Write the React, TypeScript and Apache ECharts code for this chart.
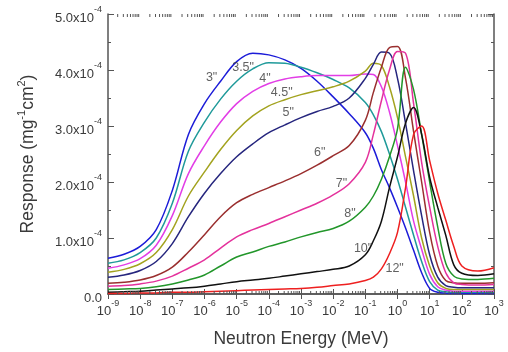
import React, { useEffect, useRef } from "react";
import * as echarts from "echarts";

// log10 of neutron energy (MeV) at which responses are read
const logE = [-9, -8.5, -8, -7.5, -7, -6.5, -6, -5.5, -5, -4.5, -4, -3.5, -3, -2.5, -2, -1.5, -1, -0.75, -0.5, -0.25, 0, 0.25, 0.5, 0.75, 1, 1.25, 1.5, 1.75, 2, 2.5, 3];

// responses in units of 1e-4 mg^-1 cm^2
const r3 = [0.64, 0.71, 0.85, 1.15, 1.85, 2.85, 3.4, 3.8, 4.15, 4.3, 4.27, 4.18, 4.03, 3.8, 3.52, 3.22, 2.88, 2.6, 2.22, 1.9, 1.55, 1.18, 0.78, 0.38, 0.1, 0.03, 0.015, 0.01, 0.01, 0.01, 0.01];
const r35 = [0.55, 0.61, 0.74, 1.0, 1.62, 2.55, 3.07, 3.48, 3.8, 4.02, 4.13, 4.12, 4.05, 3.95, 3.83, 3.68, 3.42, 3.2, 2.9, 2.5, 2.05, 1.55, 1.05, 0.58, 0.22, 0.07, 0.04, 0.03, 0.03, 0.03, 0.03];
const r4 = [0.46, 0.52, 0.63, 0.87, 1.4, 2.15, 2.65, 3.07, 3.4, 3.62, 3.76, 3.84, 3.88, 3.9, 3.9, 3.9, 3.93, 3.92, 3.7, 3.25, 2.65, 2.0, 1.3, 0.8, 0.35, 0.13, 0.07, 0.05, 0.05, 0.05, 0.05];
const r45 = [0.39, 0.44, 0.54, 0.74, 1.15, 1.75, 2.18, 2.58, 2.92, 3.18, 3.36, 3.47, 3.56, 3.63, 3.7, 3.8, 3.98, 4.12, 4.08, 3.7, 3.15, 2.45, 1.75, 1.0, 0.5, 0.2, 0.1, 0.08, 0.08, 0.08, 0.08];
const r5 = [0.30, 0.34, 0.42, 0.58, 0.9, 1.38, 1.8, 2.15, 2.45, 2.68, 2.88, 3.02, 3.15, 3.26, 3.35, 3.5, 3.85, 4.1, 4.32, 4.3, 3.85, 3.05, 2.2, 1.4, 0.7, 0.3, 0.15, 0.12, 0.11, 0.11, 0.11];
const r6 = [0.19, 0.21, 0.25, 0.33, 0.48, 0.75, 1.06, 1.38, 1.63, 1.78, 1.9, 2.02, 2.15, 2.3, 2.47, 2.65, 3.1, 3.6, 4.05, 4.4, 4.42, 3.85, 2.9, 2.0, 1.1, 0.5, 0.24, 0.2, 0.19, 0.19, 0.2];
const r7 = [0.14, 0.15, 0.18, 0.23, 0.32, 0.46, 0.61, 0.82, 1.02, 1.15, 1.26, 1.38, 1.5, 1.62, 1.77, 1.97, 2.35, 2.85, 3.45, 4.0, 4.33, 4.3, 3.4, 2.35, 1.55, 0.85, 0.38, 0.2, 0.17, 0.16, 0.17];
const r8 = [0.08, 0.09, 0.1, 0.13, 0.18, 0.25, 0.34, 0.5, 0.66, 0.75, 0.85, 0.93, 1.02, 1.1, 1.17, 1.3, 1.55, 1.75, 2.05, 2.45, 2.95, 4.05, 3.65, 2.85, 2.0, 1.2, 0.55, 0.32, 0.27, 0.26, 0.28];
const r10 = [0.03, 0.04, 0.05, 0.07, 0.09, 0.11, 0.14, 0.18, 0.22, 0.25, 0.28, 0.32, 0.36, 0.4, 0.44, 0.5, 0.7, 0.95, 1.3, 1.9, 2.45, 3.05, 3.33, 2.85, 2.08, 1.55, 1.05, 0.52, 0.37, 0.33, 0.36];
const r12 = [0.01, 0.01, 0.02, 0.02, 0.03, 0.03, 0.04, 0.05, 0.06, 0.07, 0.08, 0.09, 0.1, 0.12, 0.15, 0.18, 0.24, 0.3, 0.45, 0.72, 1.1, 1.9, 2.85, 3.0, 2.38, 1.8, 1.32, 0.85, 0.5, 0.41, 0.47];

const seriesNames = ['3"', '3.5"', '4"', '4.5"', '5"', '6"', '7"', '8"', '10"', '12"'];
const seriesValues = [r3, r35, r4, r45, r5, r6, r7, r8, r10, r12];
const seriesColors = ["#1c1cd8", "#1f9a9a", "#e23ee6", "#a3a31f", "#26267e", "#9a2f2f", "#e4329c", "#22962a", "#111111", "#ee2020"];

// curve label positions: log10(E) and response (1e-4)
const labelText = ['3"', '3.5"', '4"', '4.5"', '5"', '6"', '7"', '8"', '10"', '12"'];
const labelLogE = [-5.78, -4.8, -4.12, -3.6, -3.4, -2.42, -1.74, -1.48, -1.07, -0.09];
const labelResp = [3.87, 4.05, 3.86, 3.61, 3.25, 2.54, 1.98, 1.44, 0.82, 0.46];

const minorMultipliers = [2, 3, 4, 5, 6, 7, 8, 9];
const decadeExps = [-9, -8, -7, -6, -5, -4, -3, -2, -1, 0, 1, 2];

const FONT = "Liberation Sans, Arial, sans-serif";
const TXT = "#3a3a3a";
const AXIS = "#555555";

export default function App() {
  const ref = useRef<HTMLDivElement>(null);
  useEffect(() => {
    if (!ref.current) return;
    const chart = echarts.init(ref.current, undefined, { renderer: "svg" });

    const lineSeries = seriesNames.map((name, si) => ({
      name,
      type: "line",
      xAxisIndex: 0,
      yAxisIndex: 0,
      showSymbol: false,
      symbol: "none",
      smooth: 0.35,
      lineStyle: { color: seriesColors[si], width: 1.5 },
      itemStyle: { color: seriesColors[si] },
      data: logE.map((g, i) => [Math.pow(10, g), seriesValues[si][i] * 1e-4]),
      z: 3,
    }));

    const minorTicks: number[][] = [];
    decadeExps.forEach((e) => minorMultipliers.forEach((m) => minorTicks.push([m * Math.pow(10, e), 0])));

    const sup = {
      b: { fontSize: 13, color: TXT, fontFamily: FONT, lineHeight: 19, verticalAlign: "bottom" },
      s: { fontSize: 9, color: TXT, fontFamily: FONT, lineHeight: 11, verticalAlign: "top" },
    };

    chart.setOption({
      animation: false,
      grid: { left: 108, right: 14, top: 14, bottom: 56, containLabel: false },
      xAxis: [
        {
          type: "log",
          logBase: 10,
          min: 1e-9,
          max: 1e3,
          interval: 1,
          position: "bottom",
          axisLine: { show: true, lineStyle: { color: AXIS, width: 1.5 } },
          axisTick: { show: true, inside: true, length: 5, lineStyle: { color: AXIS } },
          splitLine: { show: false },
          axisLabel: {
            margin: 4,
            formatter: (v: number) => `{b|10}{s|${Math.round(Math.log10(v))}}`,
            rich: sup,
          },
          name: "Neutron Energy (MeV)",
          nameLocation: "middle",
          nameGap: 35,
          nameTextStyle: { fontSize: 17.5, color: TXT, fontFamily: FONT },
        },
        {
          type: "log",
          logBase: 10,
          min: 1e-9,
          max: 1e3,
          interval: 1,
          position: "top",
          axisLine: { show: true, lineStyle: { color: AXIS, width: 1.5 } },
          axisTick: { show: true, inside: true, length: 5, lineStyle: { color: AXIS } },
          axisLabel: { show: false },
          splitLine: { show: false },
        },
      ],
      yAxis: [
        {
          type: "value",
          min: 0,
          max: 5e-4,
          interval: 1e-4,
          position: "left",
          axisLine: { show: true, lineStyle: { color: AXIS, width: 1.5 } },
          axisTick: { show: true, inside: true, length: 6, lineStyle: { color: AXIS } },
          minorTick: { show: true, splitNumber: 2, length: 3, lineStyle: { color: AXIS } },
          splitLine: { show: false },
          axisLabel: {
            margin: 6,
            formatter: (v: number) => (v === 0 ? "{b|0.0}" : `{b|${(v / 1e-4).toFixed(1)}x10}{s|-4}`),
            rich: sup,
          },
          name: "Response (mg{s|-1}cm{s|2})",
          nameLocation: "middle",
          nameRotate: 90,
          nameGap: 69,
          nameTextStyle: {
            fontSize: 17.5,
            color: TXT,
            fontFamily: FONT,
            rich: {
              s: { fontSize: 11, color: TXT, fontFamily: FONT, verticalAlign: "top", lineHeight: 11 },
            },
            lineHeight: 24,
            verticalAlign: "bottom",
          },
        },
        {
          type: "value",
          min: 0,
          max: 5e-4,
          interval: 1e-4,
          position: "right",
          axisLine: { show: true, lineStyle: { color: AXIS, width: 1.5 } },
          axisTick: { show: true, inside: true, length: 6, lineStyle: { color: AXIS } },
          minorTick: { show: true, splitNumber: 2, length: 3, lineStyle: { color: AXIS } },
          splitLine: { show: false },
          axisLabel: { show: false },
        },
      ],
      series: [
        ...lineSeries,
        {
          type: "custom",
          xAxisIndex: 0,
          yAxisIndex: 0,
          silent: true,
          data: minorTicks,
          renderItem: (params: any, api: any) => {
            const x = api.value(0);
            const b = api.coord([x, 0]);
            const t = api.coord([x, 5e-4]);
            return {
              type: "group",
              children: [
                { type: "line", shape: { x1: b[0], y1: b[1], x2: b[0], y2: b[1] - 3 }, style: { stroke: AXIS, lineWidth: 1 } },
                { type: "line", shape: { x1: t[0], y1: t[1], x2: t[0], y2: t[1] + 3 }, style: { stroke: AXIS, lineWidth: 1 } },
              ],
            };
          },
          z: 5,
        },
        {
          type: "scatter",
          xAxisIndex: 0,
          yAxisIndex: 0,
          silent: true,
          symbolSize: 0,
          itemStyle: { color: "transparent" },
          data: labelText.map((t, i) => [Math.pow(10, labelLogE[i]), labelResp[i] * 1e-4, t]),
          label: {
            show: true,
            position: "inside",
            formatter: (p: any) => p.data[2],
            fontSize: 12.5,
            color: TXT,
            fontFamily: FONT,
          },
          z: 6,
        },
      ],
    });
    return () => chart.dispose();
  }, []);
  return <div ref={ref} style={{ position: "fixed", left: 0, top: 0, width: 508, height: 352 }} />;
}
